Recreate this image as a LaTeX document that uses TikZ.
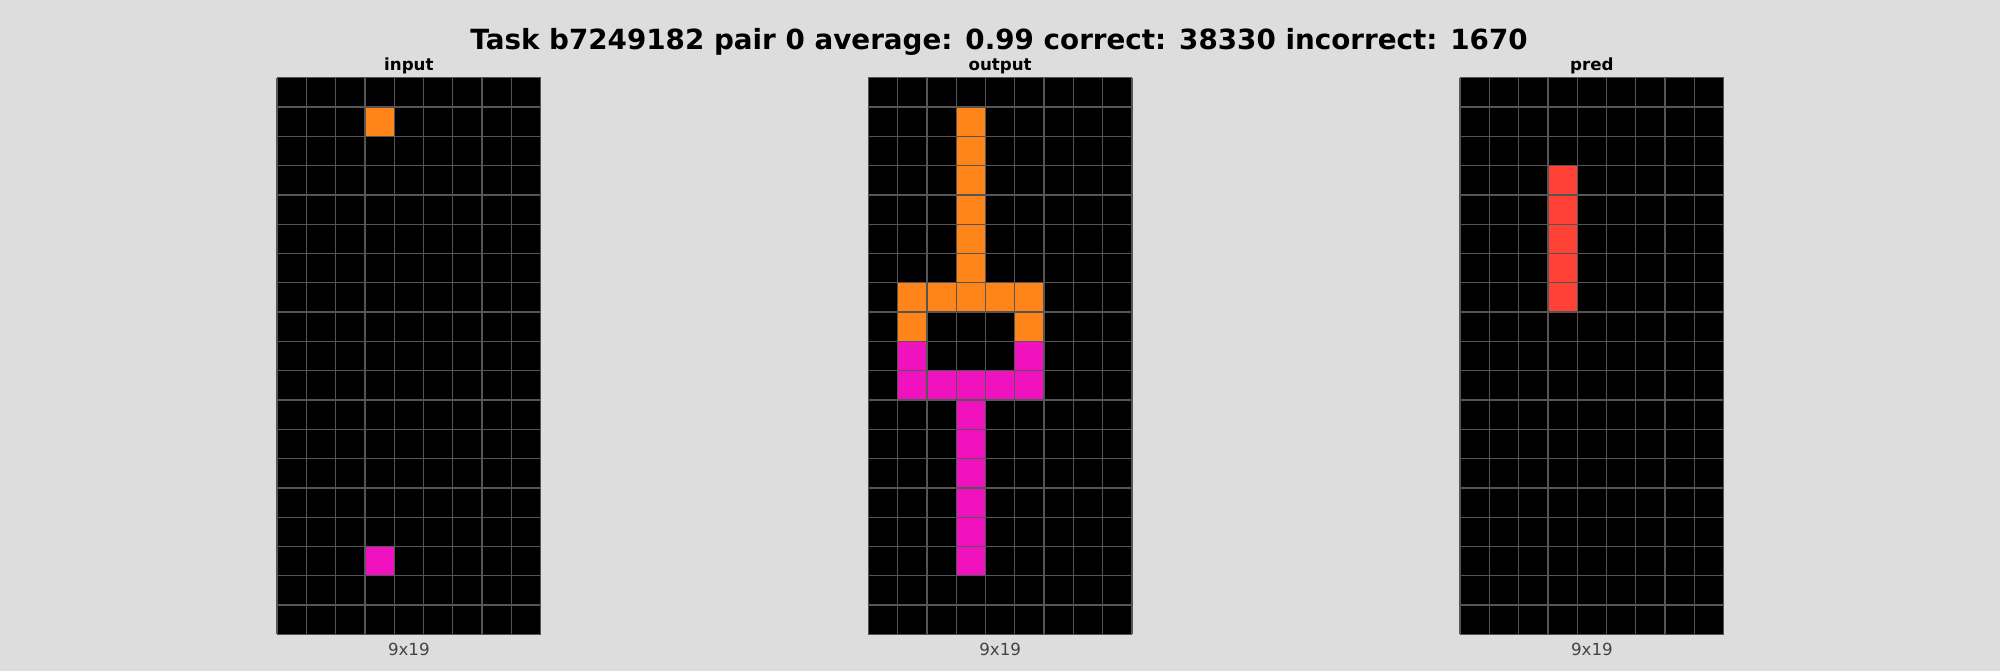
\documentclass[tikz,border=0pt]{standalone}
\usepackage{fontspec}
\setmainfont{DejaVu Sans}
\definecolor{bg}{HTML}{DDDDDD}
\definecolor{arcorange}{HTML}{FF851B}
\definecolor{arcmagenta}{HTML}{F012BE}
\definecolor{arcred}{HTML}{FF4136}
\definecolor{gridline}{HTML}{555555}
\definecolor{labelgray}{HTML}{444444}
\tikzset{
  titletext/.style={font=\bfseries\fontsize{20}{24}\selectfont, anchor=base, inner sep=0pt},
  subtitletext/.style={font=\bfseries\fontsize{12}{14}\selectfont, anchor=base, inner sep=0pt},
  sizetext/.style={font=\fontsize{12}{14}\selectfont, text=labelgray, anchor=base, inner sep=0pt},
}
\newcommand{\cs}{29.3}
\newcommand{\gy}{77.7}
\newcommand{\arcgrid}[1]{%
  \fill[black] (#1,\gy) rectangle ++(9*\cs,19*\cs);
}
\newcommand{\arccell}[4]{% x0, col, row, color
  \fill[#4] ({#1+#2*\cs},{\gy+#3*\cs}) rectangle ++(\cs,\cs);
}
\newcommand{\arclines}[1]{%
  \foreach \i in {0,...,9} { \draw[gridline, line width=0.9pt] ({#1+\i*\cs},\gy) -- ++(0,19*\cs); }
  \foreach \j in {0,...,19} { \draw[gridline, line width=0.9pt] (#1,{\gy+\j*\cs}) -- ++(9*\cs,0); }
}
\begin{document}
\begin{tikzpicture}[x=0.72pt,y=-0.72pt]
\fill[bg] (0,0) rectangle (2000,671);
\useasboundingbox (0,0) rectangle (2000,671);
\node[titletext] (title) at (999,49) {Task b7249182 pair 0 average: 0.99 correct: 38330 incorrect: 1670};
% input
\def\xa{277}
\arcgrid{\xa}
\arccell{\xa}{3}{1}{arcorange}
\arccell{\xa}{3}{16}{arcmagenta}
\arclines{\xa}
\node[subtitletext] (inlabel) at ({\xa+4.5*\cs},70.5) {input};
\node[sizetext] (insize) at ({\xa+4.5*\cs},655) {9x19};
% output
\def\xb{868.3}
\arcgrid{\xb}
\foreach \r in {1,...,6} { \arccell{\xb}{3}{\r}{arcorange} }
\foreach \c in {1,...,5} { \arccell{\xb}{\c}{7}{arcorange} }
\arccell{\xb}{1}{8}{arcorange}
\arccell{\xb}{5}{8}{arcorange}
\arccell{\xb}{1}{9}{arcmagenta}
\arccell{\xb}{5}{9}{arcmagenta}
\foreach \c in {1,...,5} { \arccell{\xb}{\c}{10}{arcmagenta} }
\foreach \r in {11,...,16} { \arccell{\xb}{3}{\r}{arcmagenta} }
\arclines{\xb}
\node[subtitletext] (outlabel) at ({\xb+4.5*\cs},70.5) {output};
\node[sizetext] (outsize) at ({\xb+4.5*\cs},655) {9x19};
% pred
\def\xc{1460}
\arcgrid{\xc}
\foreach \r in {3,...,7} { \arccell{\xc}{3}{\r}{arcred} }
\arclines{\xc}
\node[subtitletext] (predlabel) at ({\xc+4.5*\cs},70.5) {pred};
\node[sizetext] (predsize) at ({\xc+4.5*\cs},655) {9x19};
\end{tikzpicture}
\end{document}
